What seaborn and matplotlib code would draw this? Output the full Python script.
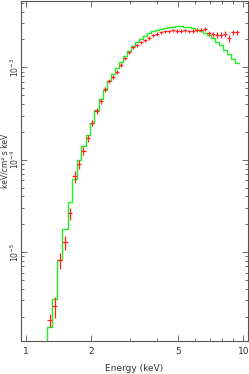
import matplotlib
matplotlib.use("Agg")
import matplotlib.pyplot as plt
import matplotlib.ticker as mticker
import seaborn as sns
import numpy as np

# ============================================
# DATA
# ============================================

# energy bin edges (keV)
bin_edges = [1.246, 1.322, 1.389, 1.470, 1.557, 1.635, 1.713, 1.793, 1.884, 1.972,
             2.064, 2.170, 2.264, 2.362, 2.465, 2.571, 2.683, 2.799, 2.921, 3.047,
             3.179, 3.317, 3.461, 3.611, 3.767, 3.931, 4.101, 4.279, 4.464, 4.658,
             4.860, 5.071, 5.290, 5.520, 5.759, 6.009, 6.270, 6.541, 6.825, 7.121,
             7.430, 7.752, 8.088, 8.439, 8.805, 9.187, 9.585]

# observed flux (keV/cm^2 s keV)
data_flux = [1.84e-6, 2.61e-6, 8.20e-6, 1.28e-5, 2.64e-5, 6.63e-5, 8.94e-5, 1.24e-4,
             1.71e-4, 2.48e-4, 3.34e-4, 4.29e-4, 5.78e-4, 7.06e-4, 7.80e-4, 8.83e-4,
             1.05e-3, 1.25e-3, 1.45e-3, 1.64e-3, 1.73e-3, 1.86e-3, 1.96e-3, 2.08e-3,
             2.22e-3, 2.30e-3, 2.39e-3, 2.45e-3, 2.45e-3, 2.51e-3, 2.48e-3, 2.48e-3,
             2.51e-3, 2.45e-3, 2.48e-3, 2.51e-3, 2.51e-3, 2.58e-3, 2.33e-3, 2.28e-3,
             2.22e-3, 2.22e-3, 2.30e-3, 2.06e-3, 2.39e-3, 2.39e-3]

data_err = [3.1e-7, 6.5e-7, 1.6e-6, 2.2e-6, 4.0e-6, 1.0e-5, 1.1e-5, 1.2e-5,
            1.5e-5, 1.9e-5, 2.5e-5, 2.7e-5, 3.6e-5, 3.5e-5, 3.9e-5, 4.4e-5,
            5.0e-5, 5.5e-5, 6.0e-5, 6.5e-5, 7.0e-5, 7.5e-5, 8.0e-5, 8.5e-5,
            9.0e-5, 9.5e-5, 1.0e-4, 1.0e-4, 1.0e-4, 1.1e-4, 1.1e-4, 1.1e-4,
            1.1e-4, 1.1e-4, 1.2e-4, 1.2e-4, 1.2e-4, 1.4e-4, 1.5e-4, 1.5e-4,
            1.6e-4, 1.6e-4, 1.6e-4, 1.6e-4, 1.7e-4, 1.7e-4]

# folded model
model_flux = [1.53e-6, 3.10e-6, 8.20e-6, 1.77e-5, 3.50e-5, 6.11e-5, 1.00e-4, 1.40e-4,
              1.84e-4, 2.50e-4, 3.43e-4, 4.51e-4, 5.64e-4, 7.06e-4, 8.40e-4, 9.75e-4,
              1.13e-3, 1.32e-3, 1.49e-3, 1.69e-3, 1.86e-3, 2.03e-3, 2.19e-3, 2.33e-3,
              2.45e-3, 2.54e-3, 2.61e-3, 2.67e-3, 2.70e-3, 2.74e-3, 2.77e-3, 2.77e-3,
              2.74e-3, 2.70e-3, 2.64e-3, 2.54e-3, 2.45e-3, 2.33e-3, 2.22e-3, 2.06e-3,
              1.89e-3, 1.73e-3, 1.53e-3, 1.38e-3, 1.24e-3, 1.10e-3]

x_range = [0.948, 10.5]
y_range = [1.09e-6, 5.2e-3]

# ============================================
# DERIVED BIN GEOMETRY
# ============================================

edges = np.array(bin_edges)
centers = np.sqrt(edges[:-1] * edges[1:])
xerr = [centers - edges[:-1], edges[1:] - centers]

# ============================================
# PLOT
# ============================================

sns.set_theme(style="ticks")
plt.rcParams["font.family"] = ["Liberation Sans Narrow", "DejaVu Sans"]
plt.rcParams["mathtext.fontset"] = "custom"
plt.rcParams["mathtext.rm"] = "Liberation Sans Narrow"

fig = plt.figure(figsize=(2.49, 3.74), dpi=100)
ax = fig.add_axes([0.0843, 0.088, 0.9117, 0.909])

red = "#ff2020"
green = "#22ee22"

ax.errorbar(centers, data_flux, xerr=xerr, yerr=data_err, fmt="none",
            ecolor=red, elinewidth=0.9, capsize=0, zorder=3)

sns.lineplot(x=edges, y=model_flux + [model_flux[-1]], drawstyle="steps-post",
             color=green, linewidth=1.0, estimator=None, ax=ax, zorder=2)
ax.vlines(edges[0], y_range[0], model_flux[0], color=green, linewidth=1.0, zorder=2)

ax.set_xscale("log")
ax.set_yscale("log")
ax.set_xlim(*x_range)
ax.set_ylim(*y_range)

ax.xaxis.set_major_locator(mticker.FixedLocator([1, 2, 5, 10]))
ax.xaxis.set_major_formatter(mticker.FixedFormatter(["1", "2", "5", "10"]))
ax.xaxis.set_minor_locator(mticker.FixedLocator([3, 4, 6, 7, 8, 9]))
ax.xaxis.set_minor_formatter(mticker.NullFormatter())
ax.yaxis.set_major_locator(mticker.LogLocator(base=10))
ax.yaxis.set_minor_locator(mticker.LogLocator(base=10, subs=np.arange(2, 10)))
ax.yaxis.set_minor_formatter(mticker.NullFormatter())

edge = "#555555"
for s in ax.spines.values():
    s.set_color(edge)
    s.set_linewidth(0.8)

ax.tick_params(which="both", direction="in", top=True, right=True,
               color=edge, width=0.6, labelsize=6.5, labelcolor="#333333", pad=4)
ax.tick_params(which="major", length=4)
ax.tick_params(which="minor", length=2.5)
ax.tick_params(axis="y", labelrotation=90, pad=0.3, labelsize=5.5)
for lbl in ax.get_yticklabels():
    lbl.set_va("center")

ax.set_xlabel("Energy (keV)", fontsize=6.5, color="#333333", labelpad=6)
ax.set_ylabel("keV/cm² s keV", fontsize=5.5, color="#333333")
ax.yaxis.set_label_coords(-0.05, 0.53)

fig.savefig("out.png", dpi=100)
plt.close(fig)
